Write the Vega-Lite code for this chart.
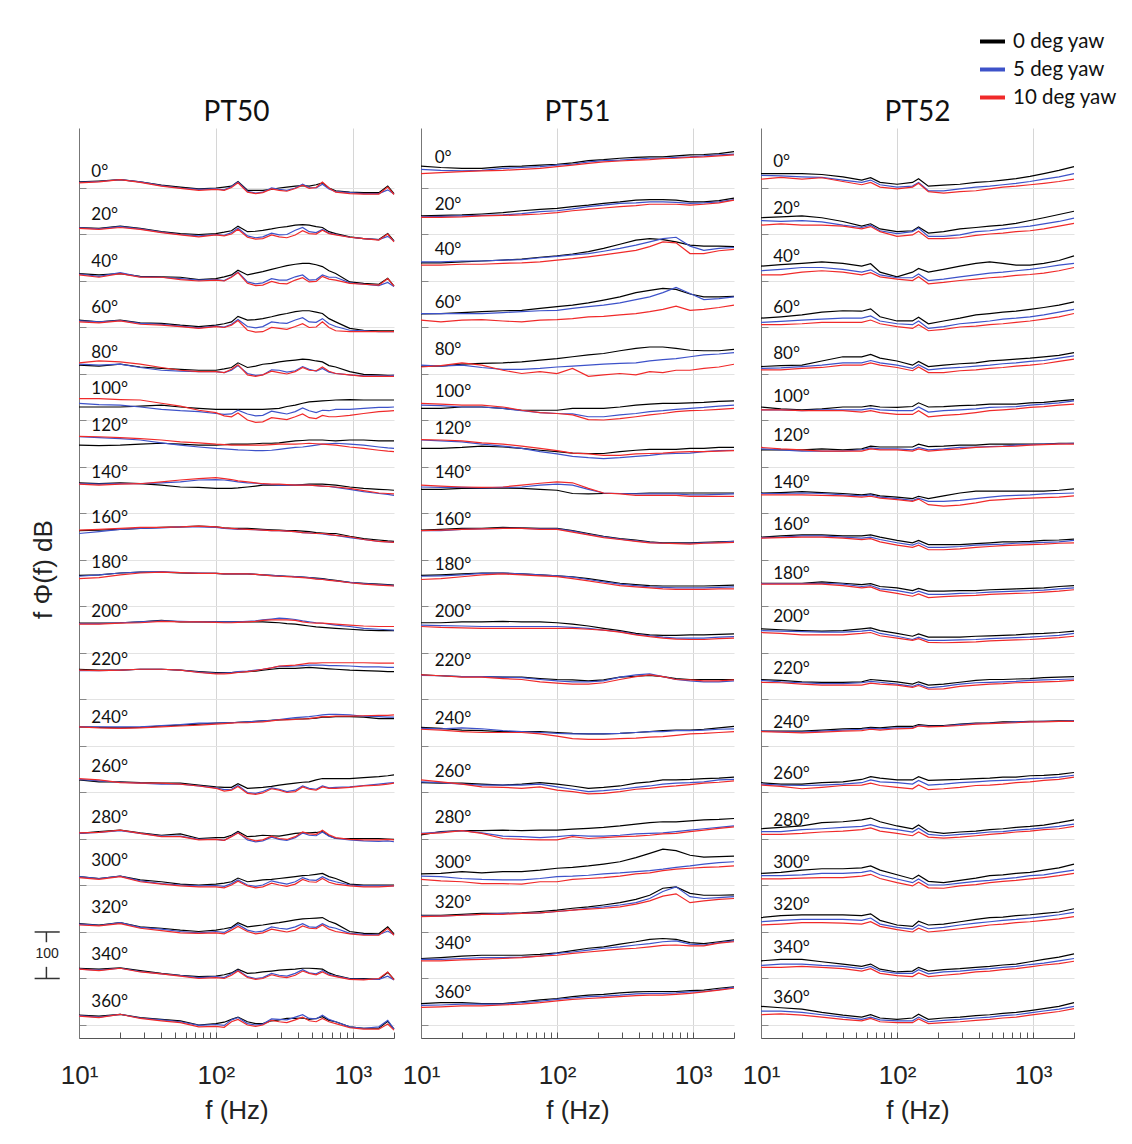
{
"$schema":"https://vega.github.io/schema/vega-lite/v6.json",
"padding":{"left":30,"top":27,"right":5,"bottom":5},
"background":"white",
"bounds":"flush",
"spacing":27,
"datasets":{
"freqs":[{"i":1,"f":10},{"i":2,"f":14},{"i":3,"f":20},{"i":4,"f":28},{"i":5,"f":40},{"i":6,"f":55},{"i":7,"f":75},{"i":8,"f":100},{"i":9,"f":130},{"i":10,"f":170},{"i":11,"f":220},{"i":12,"f":290},{"i":13,"f":380},{"i":14,"f":480},{"i":15,"f":600},{"i":16,"f":750},{"i":17,"f":950},{"i":18,"f":1200},{"i":19,"f":1550},{"i":20,"f":2000}],
"freqs50":[{"i":1,"f":10},{"i":2,"f":14},{"i":3,"f":20},{"i":4,"f":28},{"i":5,"f":40},{"i":6,"f":55},{"i":7,"f":75},{"i":8,"f":100},{"i":9,"f":115},{"i":10,"f":130},{"i":11,"f":145},{"i":12,"f":170},{"i":13,"f":195},{"i":14,"f":220},{"i":15,"f":255},{"i":16,"f":290},{"i":17,"f":330},{"i":18,"f":380},{"i":19,"f":430},{"i":20,"f":480},{"i":21,"f":540},{"i":22,"f":600},{"i":23,"f":670},{"i":24,"f":750},{"i":25,"f":950},{"i":26,"f":1200},{"i":27,"f":1550},{"i":28,"f":1800},{"i":29,"f":2000}],
"freqs52":[{"i":1,"f":10},{"i":2,"f":14},{"i":3,"f":20},{"i":4,"f":28},{"i":5,"f":40},{"i":6,"f":55},{"i":7,"f":64},{"i":8,"f":75},{"i":9,"f":100},{"i":10,"f":130},{"i":11,"f":144},{"i":12,"f":170},{"i":13,"f":220},{"i":14,"f":290},{"i":15,"f":380},{"i":16,"f":480},{"i":17,"f":600},{"i":18,"f":750},{"i":19,"f":950},{"i":20,"f":1200},{"i":21,"f":1550},{"i":22,"f":2000}],
"bar":[{"x1":4.74,"x2":7.23,"y1":200,"y2":200},{"x1":4.74,"x2":7.23,"y1":100,"y2":100},{"x1":5.78,"x2":5.78,"y1":178,"y2":200},{"x1":5.78,"x2":5.78,"y1":100,"y2":125}],
"bartext":[{"x":5.85,"y":152,"t":"100"}],
"labels":[
{"p":"PT50","a":"0°","v":1835},{"p":"PT50","a":"20°","v":1742},{"p":"PT50","a":"40°","v":1641},{"p":"PT50","a":"60°","v":1542},{"p":"PT50","a":"80°","v":1445},{"p":"PT50","a":"100°","v":1367},{"p":"PT50","a":"120°","v":1288},{"p":"PT50","a":"140°","v":1187},{"p":"PT50","a":"160°","v":1090},{"p":"PT50","a":"180°","v":993},{"p":"PT50","a":"200°","v":888},{"p":"PT50","a":"220°","v":785},{"p":"PT50","a":"240°","v":660},{"p":"PT50","a":"260°","v":555},{"p":"PT50","a":"280°","v":445},{"p":"PT50","a":"300°","v":353},{"p":"PT50","a":"320°","v":252},{"p":"PT50","a":"340°","v":150},{"p":"PT50","a":"360°","v":50},
{"p":"PT51","a":"0°","v":1864},{"p":"PT51","a":"20°","v":1763},{"p":"PT51","a":"40°","v":1666},{"p":"PT51","a":"60°","v":1552},{"p":"PT51","a":"80°","v":1451},{"p":"PT51","a":"100°","v":1362},{"p":"PT51","a":"120°","v":1281},{"p":"PT51","a":"140°","v":1187},{"p":"PT51","a":"160°","v":1086},{"p":"PT51","a":"180°","v":989},{"p":"PT51","a":"200°","v":888},{"p":"PT51","a":"220°","v":783},{"p":"PT51","a":"240°","v":658},{"p":"PT51","a":"260°","v":544},{"p":"PT51","a":"280°","v":445},{"p":"PT51","a":"300°","v":349},{"p":"PT51","a":"320°","v":263},{"p":"PT51","a":"340°","v":174},{"p":"PT51","a":"360°","v":69},
{"p":"PT52","a":"0°","v":1856},{"p":"PT52","a":"20°","v":1755},{"p":"PT52","a":"40°","v":1652},{"p":"PT52","a":"60°","v":1542},{"p":"PT52","a":"80°","v":1443},{"p":"PT52","a":"100°","v":1351},{"p":"PT52","a":"120°","v":1267},{"p":"PT52","a":"140°","v":1165},{"p":"PT52","a":"160°","v":1076},{"p":"PT52","a":"180°","v":970},{"p":"PT52","a":"200°","v":878},{"p":"PT52","a":"220°","v":765},{"p":"PT52","a":"240°","v":650},{"p":"PT52","a":"260°","v":539},{"p":"PT52","a":"280°","v":439},{"p":"PT52","a":"300°","v":348},{"p":"PT52","a":"320°","v":259},{"p":"PT52","a":"340°","v":165},{"p":"PT52","a":"360°","v":59}
],
"curves50":[
{"a":0,"c":"0 deg yaw","v":[1813,1815,1818,1813,1806,1802,1798,1800,1802,1804,1814,1795,1795,1795,1797,1800,1802,1804,1805,1804,1807,1811,1800,1794,1791,1790,1790,1804,1788]},
{"a":0,"c":"5 deg yaw","v":[1812,1814,1818,1813,1805,1800,1797,1798,1796,1803,1813,1793,1789,1791,1800,1797,1795,1800,1808,1801,1800,1808,1798,1792,1790,1788,1788,1796,1787]},
{"a":0,"c":"10 deg yaw","v":[1811,1813,1818,1812,1804,1799,1795,1797,1795,1801,1811,1791,1788,1790,1798,1795,1793,1799,1806,1799,1801,1813,1800,1791,1788,1787,1787,1802,1786]},
{"a":20,"c":"0 deg yaw","v":[1715,1713,1718,1713,1706,1702,1700,1702,1705,1708,1718,1706,1707,1709,1712,1715,1717,1720,1721,1720,1717,1715,1706,1702,1695,1691,1689,1702,1686]},
{"a":20,"c":"5 deg yaw","v":[1714,1712,1717,1712,1705,1700,1697,1700,1698,1704,1714,1697,1693,1695,1703,1699,1700,1709,1715,1706,1704,1711,1703,1700,1694,1691,1689,1696,1686]},
{"a":20,"c":"10 deg yaw","v":[1713,1711,1715,1711,1704,1699,1695,1699,1697,1701,1711,1694,1690,1691,1699,1695,1693,1699,1708,1702,1701,1709,1702,1699,1694,1691,1688,1701,1684]},
{"a":40,"c":"0 deg yaw","v":[1616,1613,1616,1610,1609,1608,1603,1605,1609,1613,1623,1613,1617,1620,1625,1629,1633,1636,1638,1638,1635,1631,1622,1616,1598,1595,1593,1606,1589]},
{"a":40,"c":"5 deg yaw","v":[1615,1610,1618,1609,1608,1605,1602,1603,1601,1609,1619,1598,1594,1596,1605,1602,1602,1609,1613,1602,1603,1613,1608,1608,1596,1593,1590,1597,1588]},
{"a":40,"c":"10 deg yaw","v":[1613,1608,1616,1608,1608,1603,1600,1602,1600,1608,1618,1595,1590,1591,1599,1595,1594,1602,1607,1598,1599,1610,1604,1602,1595,1593,1591,1605,1589]},
{"a":60,"c":"0 deg yaw","v":[1516,1512,1516,1510,1509,1505,1502,1505,1508,1512,1524,1516,1517,1519,1523,1527,1530,1534,1536,1536,1533,1530,1519,1512,1498,1494,1493,1493,1493]},
{"a":60,"c":"5 deg yaw","v":[1514,1512,1515,1509,1507,1503,1499,1503,1501,1507,1517,1502,1499,1502,1512,1510,1509,1516,1521,1512,1511,1519,1508,1502,1494,1493,1491,1491,1491]},
{"a":60,"c":"10 deg yaw","v":[1512,1510,1514,1507,1505,1502,1498,1502,1500,1505,1515,1494,1490,1491,1500,1498,1496,1502,1508,1500,1501,1512,1500,1493,1491,1491,1491,1491,1491]},
{"a":80,"c":"0 deg yaw","v":[1419,1417,1421,1415,1412,1410,1408,1408,1411,1414,1424,1414,1417,1421,1423,1426,1428,1430,1432,1431,1428,1426,1418,1415,1405,1399,1398,1397,1397]},
{"a":80,"c":"5 deg yaw","v":[1421,1419,1421,1414,1408,1406,1405,1405,1403,1408,1418,1401,1397,1398,1409,1408,1404,1407,1416,1410,1406,1412,1404,1401,1398,1396,1396,1396,1397]},
{"a":80,"c":"10 deg yaw","v":[1424,1428,1426,1421,1414,1408,1405,1405,1403,1410,1420,1398,1395,1398,1406,1403,1400,1405,1414,1408,1407,1415,1406,1401,1398,1395,1395,1395,1395]},
{"a":100,"c":"0 deg yaw","v":[1329,1329,1329,1331,1333,1329,1326,1324,1324,1324,1324,1324,1324,1324,1325,1326,1330,1333,1337,1340,1341,1342,1343,1344,1345,1344,1344,1344,1344]},
{"a":100,"c":"5 deg yaw","v":[1337,1334,1333,1329,1324,1321,1319,1315,1313,1314,1322,1314,1310,1311,1320,1317,1314,1319,1327,1321,1317,1322,1321,1324,1324,1326,1328,1328,1329]},
{"a":100,"c":"10 deg yaw","v":[1347,1347,1345,1344,1337,1331,1322,1317,1310,1308,1316,1301,1296,1297,1306,1304,1302,1308,1314,1306,1304,1311,1308,1308,1311,1315,1319,1320,1321]},
{"a":120,"c":"0 deg yaw","v":[1247,1246,1247,1249,1251,1249,1247,1247,1248,1249,1249,1249,1250,1251,1251,1252,1254,1256,1257,1258,1258,1258,1257,1256,1258,1258,1256,1256,1256]},
{"a":120,"c":"5 deg yaw","v":[1265,1263,1261,1258,1252,1247,1243,1240,1239,1238,1237,1236,1235,1235,1236,1238,1240,1242,1243,1245,1247,1249,1250,1251,1249,1247,1243,1241,1240]},
{"a":120,"c":"10 deg yaw","v":[1266,1265,1263,1261,1258,1254,1252,1249,1248,1247,1247,1247,1247,1247,1248,1249,1249,1249,1250,1251,1250,1249,1248,1247,1243,1240,1236,1234,1233]},
{"a":140,"c":"0 deg yaw","v":[1166,1164,1166,1164,1161,1157,1156,1154,1154,1154,1155,1157,1159,1161,1161,1161,1161,1161,1162,1163,1163,1163,1162,1161,1157,1154,1152,1151,1150]},
{"a":140,"c":"5 deg yaw","v":[1164,1163,1164,1164,1166,1168,1172,1173,1172,1170,1168,1166,1165,1163,1162,1161,1161,1161,1161,1161,1160,1159,1158,1156,1152,1147,1143,1141,1139]},
{"a":140,"c":"10 deg yaw","v":[1163,1161,1163,1164,1168,1172,1175,1177,1175,1173,1170,1168,1166,1164,1163,1163,1162,1161,1161,1161,1160,1159,1158,1157,1154,1149,1144,1143,1142]},
{"a":160,"c":"0 deg yaw","v":[1063,1064,1066,1068,1070,1071,1073,1071,1069,1068,1068,1068,1067,1066,1065,1064,1063,1063,1062,1061,1059,1058,1057,1057,1051,1046,1043,1041,1040]},
{"a":160,"c":"5 deg yaw","v":[1057,1061,1066,1068,1069,1071,1071,1070,1068,1067,1066,1066,1065,1064,1063,1063,1062,1061,1059,1058,1057,1056,1054,1053,1048,1044,1040,1039,1038]},
{"a":160,"c":"10 deg yaw","v":[1064,1066,1068,1070,1070,1071,1073,1071,1069,1068,1067,1066,1065,1064,1063,1063,1062,1061,1059,1058,1057,1057,1055,1053,1050,1044,1040,1039,1038]},
{"a":180,"c":"0 deg yaw","v":[967,968,972,974,974,972,971,971,970,970,970,970,969,968,967,966,965,964,963,962,961,960,958,956,952,950,948,947,946]},
{"a":180,"c":"5 deg yaw","v":[965,968,972,974,975,973,972,971,970,970,970,970,969,968,967,966,965,964,963,962,960,959,957,955,952,949,947,946,945]},
{"a":180,"c":"10 deg yaw","v":[960,962,968,972,974,973,971,971,970,970,970,970,969,968,966,965,964,963,962,961,959,958,956,955,951,948,946,945,944]},
{"a":200,"c":"0 deg yaw","v":[864,864,865,867,870,867,867,867,867,867,867,867,867,867,866,865,863,862,860,858,856,855,854,853,851,849,848,848,848]},
{"a":200,"c":"5 deg yaw","v":[863,863,865,867,869,868,867,867,867,867,867,868,869,871,873,875,874,872,869,867,865,864,862,860,857,853,851,850,849]},
{"a":200,"c":"10 deg yaw","v":[862,862,864,865,868,867,867,866,865,865,866,867,868,870,871,871,871,870,867,865,864,864,863,862,860,858,857,857,857]},
{"a":220,"c":"0 deg yaw","v":[765,763,763,765,765,763,760,758,758,758,759,760,761,763,765,767,767,767,768,769,768,767,766,765,763,762,761,760,760]},
{"a":220,"c":"5 deg yaw","v":[762,762,763,765,765,763,759,756,757,758,760,761,763,765,768,771,771,772,773,774,774,774,773,773,772,770,770,769,769]},
{"a":220,"c":"10 deg yaw","v":[763,762,763,765,765,763,758,755,755,756,758,760,762,765,768,772,773,774,776,778,778,779,779,779,779,779,778,778,778]},
{"a":240,"c":"0 deg yaw","v":[641,640,639,640,643,645,647,649,650,650,651,652,653,654,655,656,657,658,658,659,660,662,662,663,663,662,659,659,659]},
{"a":240,"c":"5 deg yaw","v":[641,641,641,641,644,646,649,649,650,650,651,652,653,654,655,657,659,661,662,663,665,667,668,668,667,664,663,662,662]},
{"a":240,"c":"10 deg yaw","v":[641,639,638,639,641,643,645,647,648,649,650,650,651,652,654,656,656,657,658,659,661,663,663,664,664,665,666,666,667]},
{"a":260,"c":"0 deg yaw","v":[527,523,523,521,520,520,516,512,511,511,519,509,510,511,513,516,518,520,522,523,527,530,530,530,530,532,534,536,538]},
{"a":260,"c":"5 deg yaw","v":[528,525,522,520,518,518,514,510,506,507,515,500,498,502,510,507,502,505,514,509,507,514,510,511,512,515,518,520,521]},
{"a":260,"c":"10 deg yaw","v":[530,527,521,520,520,518,514,509,503,505,513,498,496,499,508,505,500,502,512,507,505,512,509,509,511,514,516,518,520]},
{"a":280,"c":"0 deg yaw","v":[412,416,419,413,408,411,401,403,403,408,416,405,406,408,407,406,409,412,413,413,414,416,407,401,401,401,401,400,399]},
{"a":280,"c":"5 deg yaw","v":[412,414,418,412,406,406,399,399,397,406,414,398,394,396,404,399,397,403,413,408,407,415,406,401,398,396,395,396,394]},
{"a":280,"c":"10 deg yaw","v":[413,414,419,412,405,405,398,399,397,405,413,401,396,398,406,401,399,405,415,411,410,419,409,403,399,398,398,399,398]},
{"a":300,"c":"0 deg yaw","v":[319,315,320,312,308,303,301,303,305,308,316,308,310,312,313,315,317,319,321,322,324,326,319,315,303,301,301,301,301]},
{"a":300,"c":"5 deg yaw","v":[319,315,320,310,304,301,299,300,298,304,312,301,298,301,310,306,303,308,317,312,311,319,312,308,301,299,299,299,299]},
{"a":300,"c":"10 deg yaw","v":[317,313,319,308,303,299,297,297,295,301,309,299,295,297,305,301,298,303,313,308,307,315,307,303,299,297,297,298,299]},
{"a":320,"c":"0 deg yaw","v":[218,215,220,211,208,204,201,204,207,210,220,211,213,215,218,220,223,226,228,229,230,231,223,218,201,197,196,211,196]},
{"a":320,"c":"5 deg yaw","v":[217,214,220,210,206,201,198,201,199,208,216,204,200,202,211,208,206,211,218,211,210,218,211,208,197,195,194,202,194]},
{"a":320,"c":"10 deg yaw","v":[215,213,218,208,203,198,197,198,196,204,212,201,196,198,206,203,200,204,213,208,207,215,206,201,196,193,193,208,193]},
{"a":340,"c":"0 deg yaw","v":[122,120,123,117,111,107,104,105,108,112,120,111,112,114,116,118,119,120,122,122,121,120,112,107,100,100,98,113,98]},
{"a":340,"c":"5 deg yaw","v":[120,118,122,115,110,106,102,104,102,110,118,104,100,102,111,107,105,111,119,112,110,117,109,105,99,98,98,105,97]},
{"a":340,"c":"10 deg yaw","v":[120,117,122,114,110,105,100,102,100,107,116,102,98,100,108,104,102,107,116,111,108,114,107,104,98,97,100,114,97]},
{"a":360,"c":"0 deg yaw","v":[21,19,23,16,12,9,0,3,6,12,17,7,3,3,9,11,14,14,15,12,14,18,10,7,-4,-7,-7,8,-9]},
{"a":360,"c":"5 deg yaw","v":[20,17,23,15,11,7,-1,1,-1,11,16,3,0,2,13,12,11,17,22,14,13,21,12,7,-4,-7,-4,10,-9]},
{"a":360,"c":"10 deg yaw","v":[19,16,23,14,9,5,-4,-3,-5,7,12,0,-3,0,10,7,5,11,17,9,7,14,7,3,-6,-9,-9,2,-11]}
],
"curves51":[
{"a":0,"c":"0 deg yaw","v":[1847,1844,1842,1842,1846,1847,1849,1851,1854,1859,1861,1864,1866,1867,1867,1869,1871,1872,1874,1878]},
{"a":0,"c":"5 deg yaw","v":[1840,1838,1837,1838,1842,1844,1846,1849,1851,1856,1859,1860,1862,1864,1864,1866,1867,1869,1871,1873]},
{"a":0,"c":"10 deg yaw","v":[1831,1833,1835,1837,1838,1840,1842,1846,1849,1853,1856,1858,1860,1861,1863,1864,1866,1867,1869,1871]},
{"a":20,"c":"0 deg yaw","v":[1740,1741,1742,1744,1747,1751,1754,1756,1760,1763,1767,1770,1774,1775,1775,1774,1770,1770,1773,1778]},
{"a":20,"c":"5 deg yaw","v":[1738,1739,1740,1741,1742,1745,1749,1751,1755,1760,1763,1767,1768,1770,1770,1769,1767,1768,1770,1775]},
{"a":20,"c":"10 deg yaw","v":[1737,1737,1738,1740,1741,1742,1744,1747,1751,1754,1757,1760,1762,1765,1765,1765,1763,1765,1768,1774]},
{"a":40,"c":"0 deg yaw","v":[1639,1639,1641,1643,1645,1647,1651,1654,1658,1663,1670,1679,1688,1691,1689,1684,1677,1675,1675,1674]},
{"a":40,"c":"5 deg yaw","v":[1641,1641,1643,1643,1645,1646,1650,1653,1656,1659,1664,1670,1677,1684,1691,1694,1675,1666,1670,1672]},
{"a":40,"c":"10 deg yaw","v":[1634,1634,1636,1636,1638,1639,1641,1645,1648,1652,1656,1661,1666,1674,1684,1682,1659,1659,1665,1668]},
{"a":60,"c":"0 deg yaw","v":[1529,1530,1532,1534,1536,1537,1541,1545,1548,1553,1559,1566,1575,1580,1584,1582,1572,1566,1566,1567]},
{"a":60,"c":"5 deg yaw","v":[1530,1530,1530,1530,1532,1534,1536,1537,1541,1545,1548,1553,1560,1566,1575,1586,1573,1560,1562,1566]},
{"a":60,"c":"10 deg yaw","v":[1516,1512,1516,1517,1514,1512,1516,1517,1519,1523,1524,1527,1530,1534,1539,1546,1537,1539,1543,1548]},
{"a":80,"c":"0 deg yaw","v":[1417,1417,1421,1423,1424,1426,1430,1433,1437,1441,1444,1450,1455,1458,1458,1455,1451,1450,1450,1453]},
{"a":80,"c":"5 deg yaw","v":[1419,1417,1419,1414,1410,1410,1412,1415,1417,1419,1421,1423,1424,1428,1431,1433,1437,1441,1443,1446]},
{"a":80,"c":"10 deg yaw","v":[1415,1418,1424,1419,1408,1401,1405,1401,1412,1395,1398,1401,1398,1405,1403,1408,1408,1412,1415,1421]},
{"a":100,"c":"0 deg yaw","v":[1326,1326,1329,1329,1326,1322,1322,1322,1326,1326,1326,1329,1333,1335,1337,1337,1338,1339,1341,1342]},
{"a":100,"c":"5 deg yaw","v":[1333,1332,1329,1329,1326,1321,1317,1315,1314,1308,1308,1312,1315,1319,1321,1324,1326,1328,1331,1333]},
{"a":100,"c":"10 deg yaw","v":[1337,1335,1333,1333,1329,1322,1317,1315,1312,1302,1301,1304,1308,1312,1315,1319,1321,1322,1324,1326]},
{"a":120,"c":"0 deg yaw","v":[1240,1240,1242,1245,1243,1240,1236,1233,1230,1229,1229,1233,1236,1238,1238,1238,1240,1240,1242,1242]},
{"a":120,"c":"5 deg yaw","v":[1258,1256,1254,1249,1245,1240,1233,1228,1223,1220,1218,1220,1223,1225,1228,1229,1230,1233,1235,1236]},
{"a":120,"c":"10 deg yaw","v":[1259,1258,1256,1252,1249,1245,1240,1235,1230,1228,1225,1225,1228,1229,1230,1232,1233,1233,1234,1235]},
{"a":140,"c":"0 deg yaw","v":[1152,1152,1154,1154,1155,1154,1152,1150,1143,1142,1143,1143,1143,1144,1144,1144,1144,1144,1144,1144]},
{"a":140,"c":"5 deg yaw","v":[1157,1156,1156,1155,1156,1157,1161,1163,1161,1152,1144,1143,1142,1142,1142,1142,1140,1140,1141,1142]},
{"a":140,"c":"10 deg yaw","v":[1161,1159,1157,1156,1157,1161,1165,1168,1166,1154,1144,1142,1139,1139,1139,1139,1137,1137,1137,1137]},
{"a":160,"c":"0 deg yaw","v":[1064,1066,1068,1068,1070,1069,1068,1068,1063,1057,1051,1046,1043,1039,1037,1037,1037,1038,1039,1040]},
{"a":160,"c":"5 deg yaw","v":[1063,1063,1066,1067,1068,1068,1067,1067,1062,1055,1050,1045,1041,1038,1036,1036,1036,1037,1038,1040]},
{"a":160,"c":"10 deg yaw","v":[1063,1064,1066,1067,1068,1068,1066,1066,1060,1054,1048,1044,1040,1037,1036,1035,1034,1036,1037,1038]},
{"a":180,"c":"0 deg yaw","v":[967,968,970,972,972,970,968,966,964,960,955,950,947,945,944,944,944,944,945,946]},
{"a":180,"c":"5 deg yaw","v":[965,966,968,971,972,970,968,966,963,958,953,948,945,942,941,940,940,940,941,942]},
{"a":180,"c":"10 deg yaw","v":[958,960,964,968,970,968,966,964,960,955,950,945,942,940,938,937,937,937,938,938]},
{"a":200,"c":"0 deg yaw","v":[865,865,867,867,868,867,867,865,862,858,853,848,842,839,838,838,839,839,840,841]},
{"a":200,"c":"5 deg yaw","v":[860,859,858,857,857,857,857,857,855,853,849,846,840,837,834,832,832,832,834,835]},
{"a":200,"c":"10 deg yaw","v":[857,855,854,853,853,853,853,853,853,851,849,845,839,835,832,830,829,829,831,832]},
{"a":220,"c":"0 deg yaw","v":[753,751,749,749,748,748,745,743,742,740,742,748,750,752,749,745,743,743,743,743]},
{"a":220,"c":"5 deg yaw","v":[752,751,749,749,748,747,743,740,738,738,740,748,753,755,749,743,740,738,738,740]},
{"a":220,"c":"10 deg yaw","v":[753,751,748,748,745,743,738,735,733,733,736,743,749,753,749,743,742,740,740,742]},
{"a":240,"c":"0 deg yaw","v":[640,638,634,633,631,631,631,629,627,626,626,627,629,631,633,634,634,636,639,642]},
{"a":240,"c":"5 deg yaw","v":[638,637,639,637,633,631,629,627,626,626,626,627,629,631,631,633,633,634,636,637]},
{"a":240,"c":"10 deg yaw","v":[636,634,631,629,629,629,626,621,616,614,614,616,617,619,620,623,626,627,629,631]},
{"a":260,"c":"0 deg yaw","v":[521,520,520,518,516,518,521,518,514,509,511,514,520,523,527,527,528,530,531,533]},
{"a":260,"c":"5 deg yaw","v":[523,521,518,516,516,516,518,512,507,502,504,507,511,514,518,520,521,523,527,528]},
{"a":260,"c":"10 deg yaw","v":[527,523,518,512,511,509,512,505,502,497,498,502,507,509,512,514,517,520,522,525]},
{"a":280,"c":"0 deg yaw","v":[409,416,418,418,419,418,419,419,421,423,425,428,432,435,437,437,439,441,442,444]},
{"a":280,"c":"5 deg yaw","v":[412,415,418,413,406,405,403,405,408,406,406,408,411,412,413,416,419,422,425,428]},
{"a":280,"c":"10 deg yaw","v":[411,413,418,412,401,399,398,398,405,401,403,405,406,408,411,412,416,419,423,426]},
{"a":300,"c":"0 deg yaw","v":[325,326,330,327,330,330,333,337,339,342,346,351,360,369,378,375,365,361,362,363]},
{"a":300,"c":"5 deg yaw","v":[320,319,315,313,312,312,315,319,320,322,325,327,330,332,335,339,342,346,349,351]},
{"a":300,"c":"10 deg yaw","v":[313,310,308,304,304,303,308,308,313,315,317,320,325,327,332,335,337,339,340,342]},
{"a":320,"c":"0 deg yaw","v":[236,236,238,240,240,241,244,247,251,254,258,263,270,279,294,297,283,279,279,280]},
{"a":320,"c":"5 deg yaw","v":[234,234,236,238,240,240,241,244,247,251,254,258,263,272,287,297,276,272,274,276]},
{"a":320,"c":"10 deg yaw","v":[233,234,236,238,238,240,241,244,247,249,251,254,260,267,277,282,263,267,270,272]},
{"a":340,"c":"0 deg yaw","v":[143,145,148,150,150,150,152,155,160,165,168,174,179,184,186,184,177,175,179,183]},
{"a":340,"c":"5 deg yaw","v":[141,141,143,145,145,146,148,154,157,161,165,168,172,175,179,181,174,172,177,181]},
{"a":340,"c":"10 deg yaw","v":[138,138,140,141,143,145,148,150,154,157,160,163,165,168,171,172,170,170,176,179]},
{"a":360,"c":"0 deg yaw","v":[46,48,48,46,46,50,54,57,61,64,66,69,71,72,72,72,74,75,79,82]},
{"a":360,"c":"5 deg yaw","v":[42,43,45,45,45,48,51,55,58,61,62,64,67,68,68,69,71,72,76,81]},
{"a":360,"c":"10 deg yaw","v":[38,39,41,41,43,45,48,52,55,57,59,61,63,64,64,66,68,71,75,79]}
],
"curves52":[
{"a":0,"c":"0 deg yaw","v":[1831,1831,1831,1829,1824,1817,1822,1812,1808,1812,1820,1804,1806,1808,1812,1814,1817,1820,1825,1831,1838,1846]},
{"a":0,"c":"5 deg yaw","v":[1827,1826,1824,1823,1817,1812,1817,1807,1802,1804,1812,1794,1794,1798,1802,1804,1807,1810,1814,1819,1824,1831]},
{"a":0,"c":"10 deg yaw","v":[1819,1823,1819,1822,1814,1807,1812,1802,1798,1802,1810,1792,1789,1792,1794,1798,1802,1804,1807,1810,1814,1819]},
{"a":20,"c":"0 deg yaw","v":[1736,1738,1740,1736,1728,1718,1723,1712,1706,1708,1716,1703,1706,1712,1715,1718,1720,1724,1730,1736,1743,1750]},
{"a":20,"c":"5 deg yaw","v":[1730,1728,1730,1727,1720,1715,1720,1708,1702,1706,1714,1696,1696,1699,1706,1708,1712,1715,1718,1723,1728,1735]},
{"a":20,"c":"10 deg yaw","v":[1720,1723,1720,1720,1718,1712,1717,1706,1696,1699,1707,1691,1691,1693,1698,1701,1703,1706,1708,1712,1718,1724]},
{"a":40,"c":"0 deg yaw","v":[1632,1635,1638,1641,1638,1632,1637,1619,1609,1619,1627,1619,1625,1632,1638,1641,1638,1634,1634,1638,1644,1654]},
{"a":40,"c":"5 deg yaw","v":[1622,1625,1629,1629,1625,1619,1624,1613,1607,1607,1615,1601,1604,1609,1613,1617,1619,1622,1625,1629,1634,1638]},
{"a":40,"c":"10 deg yaw","v":[1613,1613,1619,1622,1619,1613,1618,1609,1604,1601,1609,1594,1597,1601,1604,1607,1609,1612,1614,1617,1622,1629]},
{"a":60,"c":"0 deg yaw","v":[1520,1523,1527,1533,1536,1535,1540,1523,1514,1514,1522,1508,1514,1520,1527,1530,1533,1535,1539,1543,1548,1555]},
{"a":60,"c":"5 deg yaw","v":[1511,1513,1516,1518,1520,1520,1525,1514,1508,1506,1514,1498,1502,1508,1511,1514,1518,1520,1523,1527,1533,1539]},
{"a":60,"c":"10 deg yaw","v":[1506,1506,1508,1511,1511,1511,1516,1508,1502,1498,1506,1493,1496,1501,1503,1506,1508,1511,1514,1518,1523,1530]},
{"a":80,"c":"0 deg yaw","v":[1416,1418,1419,1428,1437,1437,1442,1434,1428,1419,1427,1416,1419,1422,1424,1428,1430,1432,1434,1437,1440,1446]},
{"a":80,"c":"5 deg yaw","v":[1412,1413,1416,1419,1424,1424,1429,1424,1419,1412,1420,1409,1412,1414,1417,1419,1422,1424,1427,1429,1434,1439]},
{"a":80,"c":"10 deg yaw","v":[1409,1409,1412,1414,1419,1419,1424,1419,1414,1407,1415,1403,1403,1407,1409,1412,1414,1417,1419,1422,1427,1432]},
{"a":100,"c":"0 deg yaw","v":[1329,1325,1323,1325,1329,1329,1332,1329,1328,1330,1338,1329,1330,1332,1333,1335,1335,1335,1338,1339,1342,1345]},
{"a":100,"c":"5 deg yaw","v":[1323,1323,1321,1323,1323,1323,1326,1323,1321,1321,1329,1318,1321,1323,1325,1328,1329,1330,1333,1335,1338,1342]},
{"a":100,"c":"10 deg yaw","v":[1323,1323,1321,1321,1321,1318,1321,1317,1313,1313,1321,1308,1311,1313,1317,1321,1323,1325,1328,1330,1333,1335]},
{"a":120,"c":"0 deg yaw","v":[1237,1237,1237,1239,1237,1239,1245,1243,1243,1243,1249,1244,1245,1247,1247,1249,1249,1249,1249,1249,1251,1251]},
{"a":120,"c":"5 deg yaw","v":[1239,1237,1234,1234,1234,1237,1241,1239,1239,1237,1242,1237,1239,1242,1243,1244,1245,1247,1248,1249,1250,1251]},
{"a":120,"c":"10 deg yaw","v":[1242,1239,1237,1234,1234,1234,1239,1237,1237,1234,1239,1234,1237,1239,1242,1243,1244,1245,1247,1248,1249,1249]},
{"a":140,"c":"0 deg yaw","v":[1144,1145,1147,1145,1143,1140,1142,1138,1135,1132,1137,1132,1138,1144,1148,1148,1148,1148,1148,1148,1150,1153]},
{"a":140,"c":"5 deg yaw","v":[1143,1143,1144,1143,1140,1138,1140,1135,1132,1128,1133,1126,1126,1128,1132,1135,1138,1139,1140,1142,1143,1144]},
{"a":140,"c":"10 deg yaw","v":[1140,1140,1140,1139,1138,1135,1137,1133,1130,1126,1131,1119,1116,1118,1123,1128,1130,1132,1133,1134,1135,1138]},
{"a":160,"c":"0 deg yaw","v":[1049,1052,1054,1054,1052,1052,1054,1049,1042,1037,1042,1033,1033,1033,1035,1037,1039,1039,1040,1042,1043,1045]},
{"a":160,"c":"5 deg yaw","v":[1048,1049,1052,1052,1049,1047,1049,1044,1037,1032,1037,1027,1027,1029,1032,1033,1034,1036,1037,1038,1039,1042]},
{"a":160,"c":"10 deg yaw","v":[1047,1048,1049,1049,1047,1044,1046,1039,1032,1027,1032,1022,1022,1024,1027,1029,1031,1032,1033,1034,1036,1037]},
{"a":180,"c":"0 deg yaw","v":[950,950,950,953,950,947,949,943,940,934,939,933,933,934,934,936,937,938,939,940,943,945]},
{"a":180,"c":"5 deg yaw","v":[949,949,949,950,948,943,945,938,934,928,933,926,926,928,929,931,932,933,934,935,938,940]},
{"a":180,"c":"10 deg yaw","v":[948,948,948,948,945,940,942,934,928,922,927,919,921,923,924,926,927,928,929,931,933,936]},
{"a":200,"c":"0 deg yaw","v":[852,850,848,847,848,852,854,848,842,836,841,834,834,834,836,837,838,839,841,842,844,847]},
{"a":200,"c":"5 deg yaw","v":[848,847,846,845,845,847,849,842,836,829,834,827,827,828,829,831,832,833,834,836,838,842]},
{"a":200,"c":"10 deg yaw","v":[844,842,839,839,839,842,844,837,832,827,831,823,822,823,824,826,827,828,829,831,833,836]},
{"a":220,"c":"0 deg yaw","v":[743,741,738,737,737,738,743,741,738,733,738,731,733,737,741,743,743,744,745,747,748,749]},
{"a":220,"c":"5 deg yaw","v":[741,738,736,734,734,736,739,737,733,728,733,725,728,733,736,737,738,739,741,742,743,744]},
{"a":220,"c":"10 deg yaw","v":[737,736,733,731,731,731,735,733,731,726,730,722,723,728,731,733,734,736,737,738,739,741]},
{"a":240,"c":"0 deg yaw","v":[632,632,632,634,637,638,640,639,642,642,646,644,644,647,649,650,652,652,653,653,654,654]},
{"a":240,"c":"5 deg yaw","v":[632,631,630,632,634,636,638,637,639,639,644,642,643,646,648,649,650,652,652,653,653,654]},
{"a":240,"c":"10 deg yaw","v":[631,630,628,630,632,633,636,634,637,638,643,641,642,644,647,648,649,650,652,652,653,653]},
{"a":260,"c":"0 deg yaw","v":[521,518,518,521,523,528,534,531,527,527,534,526,527,528,530,531,533,533,536,537,539,543]},
{"a":260,"c":"5 deg yaw","v":[518,516,515,516,518,521,527,523,521,518,526,516,518,521,523,525,526,527,530,531,533,537]},
{"a":260,"c":"10 deg yaw","v":[516,513,508,511,515,516,520,515,511,508,516,506,508,511,515,516,518,521,523,526,528,533]},
{"a":280,"c":"0 deg yaw","v":[422,425,428,435,437,441,445,437,428,422,430,416,412,415,417,420,422,425,427,430,435,441]},
{"a":280,"c":"5 deg yaw","v":[416,416,420,422,425,427,431,425,420,415,423,410,407,410,412,415,416,419,421,424,427,432]},
{"a":280,"c":"10 deg yaw","v":[410,410,412,415,417,420,424,417,412,407,415,404,402,404,407,410,412,415,417,420,422,427]},
{"a":300,"c":"0 deg yaw","v":[326,328,333,336,336,338,342,333,323,314,322,309,306,311,316,321,323,326,328,333,338,346]},
{"a":300,"c":"5 deg yaw","v":[321,321,323,326,326,328,332,323,314,306,314,301,301,305,309,311,314,317,321,323,328,333]},
{"a":300,"c":"10 deg yaw","v":[314,314,316,317,317,320,324,315,306,299,307,295,294,299,302,306,309,311,314,317,321,326]},
{"a":320,"c":"0 deg yaw","v":[231,235,237,237,237,235,239,225,215,212,223,215,217,222,227,231,232,235,237,240,243,250]},
{"a":320,"c":"5 deg yaw","v":[222,225,227,227,227,225,230,217,210,206,215,207,210,215,219,222,225,227,230,233,237,242]},
{"a":320,"c":"10 deg yaw","v":[215,217,220,220,219,217,222,212,205,200,208,200,203,207,211,215,217,220,222,225,228,233]},
{"a":340,"c":"0 deg yaw","v":[138,141,141,136,131,126,131,120,114,116,124,116,119,121,124,126,129,131,136,141,146,153]},
{"a":340,"c":"5 deg yaw","v":[128,131,131,128,126,121,126,116,111,111,119,110,114,116,119,121,124,126,130,133,138,143]},
{"a":340,"c":"10 deg yaw","v":[124,124,126,124,121,116,121,111,106,104,112,104,107,110,114,116,119,121,125,129,132,137]},
{"a":360,"c":"0 deg yaw","v":[40,37,34,27,21,17,22,15,12,15,23,12,15,17,20,22,25,27,31,35,40,48]},
{"a":360,"c":"5 deg yaw","v":[30,30,27,22,17,12,17,11,9,9,17,7,10,12,15,17,20,22,26,30,34,40]},
{"a":360,"c":"10 deg yaw","v":[22,24,21,17,12,9,14,7,5,5,13,3,5,7,10,12,15,17,21,25,29,35]}
]
},
"hconcat":[
{"width":315,"height":910,
 "title":{"text":"PT50","font":"Lato","fontSize":28,"fontWeight":"normal","color":"#111","baseline":"alphabetic","offset":-21,"anchor":"middle"},
 "layer":[
  {"data":{"name":"curves50"},
   "transform":[{"flatten":["v"]},{"window":[{"op":"row_number","as":"i"}],"groupby":["a","c"]},{"lookup":"i","from":{"data":{"name":"freqs50"},"key":"i","fields":["f"]}}],
   "mark":{"type":"line","strokeWidth":1.2},
   "encoding":{
    "x":{"field":"f","type":"quantitative","scale":{"type":"log","domain":[10,2000],"nice":false},
      "axis":{"values":[10,20,30,40,50,60,70,80,90,100,200,300,400,500,600,700,800,900,1000,2000],"labelExpr":"datum.value == 10 ? '10\u00b9' : datum.value == 100 ? '10\u00b2' : datum.value == 1000 ? '10\u00b3' : ''","labelFont":"Liberation Sans","labelFontSize":26,"labelColor":"#222","labelBaseline":"alphabetic","labelPadding":51,"labelFlush":false,"labelOverlap":false,"tickSize":-6,"tickColor":"#555","domainColor":"#555","grid":true,"gridColor":"#d6d6d6","gridOpacity":{"condition":{"test":"datum.value == 100 || datum.value == 1000","value":1},"value":0},"title":"f (Hz)","titleFont":"Liberation Sans","titleFontSize":26,"titleFontWeight":"normal","titleColor":"#222","titleY":72,"titleBaseline":"middle"}},
    "y":{"field":"v","type":"quantitative","scale":{"domain":[-28,1929],"nice":false,"zero":false},
      "axis":{"values":[0,100,200,300,400,500,600,700,800,900,1000,1100,1200,1300,1400,1500,1600,1700,1800],"labels":false,"tickSize":-7,"tickColor":"#888","domainColor":"#777","grid":true,"gridColor":"#e3e3e3","title":"f \u03a6(f) dB","titleFont":"Liberation Sans","titleFontSize":26,"titleFontWeight":"normal","titleColor":"#222","titleX":-36,"titleY":441,"titleBaseline":"middle"}},
    "color":{"field":"c","type":"nominal","scale":{"domain":["0 deg yaw","5 deg yaw","10 deg yaw"],"range":["#000000","#3d52c9","#f02a2a"]},
      "legend":{"title":null,"orient":"none","legendX":899,"legendY":-101,"symbolType":"stroke","symbolSize":625,"symbolStrokeWidth":4,"labelFont":"Lato","labelFontSize":20.5,"labelColor":"#111","rowPadding":3,"labelOffset":6,"padding":0}},
    "detail":{"field":"a"}
   }},
  {"data":{"name":"labels"},"transform":[{"filter":"datum.p === 'PT50'"}],
   "mark":{"type":"text","align":"left","baseline":"middle","font":"Lato","fontSize":17,"color":"#111"},
   "encoding":{"x":{"datum":12.3,"type":"quantitative"},"y":{"field":"v","type":"quantitative"},"text":{"field":"a"}}},
  {"data":{"name":"bar"},"mark":{"type":"rule","color":"#333","strokeWidth":1.5},
   "encoding":{"x":{"field":"x1","type":"quantitative"},"x2":{"field":"x2"},"y":{"field":"y1","type":"quantitative"},"y2":{"field":"y2"}}},
  {"data":{"name":"bartext"},"mark":{"type":"text","align":"center","baseline":"middle","font":"Liberation Sans","fontSize":14,"color":"#222"},
   "encoding":{"x":{"field":"x","type":"quantitative"},"y":{"field":"y","type":"quantitative"},"text":{"field":"t"}}}
 ]},
{"width":313,"height":910,
 "title":{"text":"PT51","font":"Lato","fontSize":28,"fontWeight":"normal","color":"#111","baseline":"alphabetic","offset":-21,"anchor":"middle"},
 "layer":[
  {"data":{"name":"curves51"},
   "transform":[{"flatten":["v"]},{"window":[{"op":"row_number","as":"i"}],"groupby":["a","c"]},{"lookup":"i","from":{"data":{"name":"freqs"},"key":"i","fields":["f"]}}],
   "mark":{"type":"line","strokeWidth":1.2},
   "encoding":{
    "x":{"field":"f","type":"quantitative","scale":{"type":"log","domain":[10,2000],"nice":false},
      "axis":{"values":[10,20,30,40,50,60,70,80,90,100,200,300,400,500,600,700,800,900,1000,2000],"labelExpr":"datum.value == 10 ? '10\u00b9' : datum.value == 100 ? '10\u00b2' : datum.value == 1000 ? '10\u00b3' : ''","labelFont":"Liberation Sans","labelFontSize":26,"labelColor":"#222","labelBaseline":"alphabetic","labelPadding":51,"labelFlush":false,"labelOverlap":false,"tickSize":-6,"tickColor":"#555","domainColor":"#555","grid":true,"gridColor":"#d6d6d6","gridOpacity":{"condition":{"test":"datum.value == 100 || datum.value == 1000","value":1},"value":0},"title":"f (Hz)","titleFont":"Liberation Sans","titleFontSize":26,"titleFontWeight":"normal","titleColor":"#222","titleY":72,"titleBaseline":"middle"}},
    "y":{"field":"v","type":"quantitative","scale":{"domain":[-28,1929],"nice":false,"zero":false},
      "axis":{"values":[0,100,200,300,400,500,600,700,800,900,1000,1100,1200,1300,1400,1500,1600,1700,1800],"labels":false,"tickSize":-7,"tickColor":"#888","domainColor":"#777","grid":true,"gridColor":"#e3e3e3","title":null}},
    "color":{"field":"c","type":"nominal","scale":{"domain":["0 deg yaw","5 deg yaw","10 deg yaw"],"range":["#000000","#3d52c9","#f02a2a"]},
      "legend":{"title":null,"orient":"none","legendX":899,"legendY":-101,"symbolType":"stroke","symbolSize":625,"symbolStrokeWidth":4,"labelFont":"Lato","labelFontSize":20.5,"labelColor":"#111","rowPadding":3,"labelOffset":6,"padding":0}},
    "detail":{"field":"a"}
   }},
  {"data":{"name":"labels"},"transform":[{"filter":"datum.p === 'PT51'"}],
   "mark":{"type":"text","align":"left","baseline":"middle","font":"Lato","fontSize":17,"color":"#111"},
   "encoding":{"x":{"datum":12.6,"type":"quantitative"},"y":{"field":"v","type":"quantitative"},"text":{"field":"a"}}}
 ]},
{"width":313,"height":910,
 "title":{"text":"PT52","font":"Lato","fontSize":28,"fontWeight":"normal","color":"#111","baseline":"alphabetic","offset":-21,"anchor":"middle"},
 "layer":[
  {"data":{"name":"curves52"},
   "transform":[{"flatten":["v"]},{"window":[{"op":"row_number","as":"i"}],"groupby":["a","c"]},{"lookup":"i","from":{"data":{"name":"freqs52"},"key":"i","fields":["f"]}}],
   "mark":{"type":"line","strokeWidth":1.2},
   "encoding":{
    "x":{"field":"f","type":"quantitative","scale":{"type":"log","domain":[10,2000],"nice":false},
      "axis":{"values":[10,20,30,40,50,60,70,80,90,100,200,300,400,500,600,700,800,900,1000,2000],"labelExpr":"datum.value == 10 ? '10\u00b9' : datum.value == 100 ? '10\u00b2' : datum.value == 1000 ? '10\u00b3' : ''","labelFont":"Liberation Sans","labelFontSize":26,"labelColor":"#222","labelBaseline":"alphabetic","labelPadding":51,"labelFlush":false,"labelOverlap":false,"tickSize":-6,"tickColor":"#555","domainColor":"#555","grid":true,"gridColor":"#d6d6d6","gridOpacity":{"condition":{"test":"datum.value == 100 || datum.value == 1000","value":1},"value":0},"title":"f (Hz)","titleFont":"Liberation Sans","titleFontSize":26,"titleFontWeight":"normal","titleColor":"#222","titleY":72,"titleBaseline":"middle"}},
    "y":{"field":"v","type":"quantitative","scale":{"domain":[-28,1929],"nice":false,"zero":false},
      "axis":{"values":[0,100,200,300,400,500,600,700,800,900,1000,1100,1200,1300,1400,1500,1600,1700,1800],"labels":false,"tickSize":-7,"tickColor":"#888","domainColor":"#777","grid":true,"gridColor":"#e3e3e3","title":null}},
    "color":{"field":"c","type":"nominal","scale":{"domain":["0 deg yaw","5 deg yaw","10 deg yaw"],"range":["#000000","#3d52c9","#f02a2a"]},
      "legend":{"title":null,"orient":"none","legendX":899,"legendY":-101,"symbolType":"stroke","symbolSize":625,"symbolStrokeWidth":4,"labelFont":"Lato","labelFontSize":20.5,"labelColor":"#111","rowPadding":3,"labelOffset":6,"padding":0}},
    "detail":{"field":"a"}
   }},
  {"data":{"name":"labels"},"transform":[{"filter":"datum.p === 'PT52'"}],
   "mark":{"type":"text","align":"left","baseline":"middle","font":"Lato","fontSize":17,"color":"#111"},
   "encoding":{"x":{"datum":12.3,"type":"quantitative"},"y":{"field":"v","type":"quantitative"},"text":{"field":"a"}}}
 ]}
],
"resolve":{"scale":{"x":"independent","y":"independent","color":"shared"},"legend":{"color":"shared"}},
"config":{"view":{"stroke":null}}
}
